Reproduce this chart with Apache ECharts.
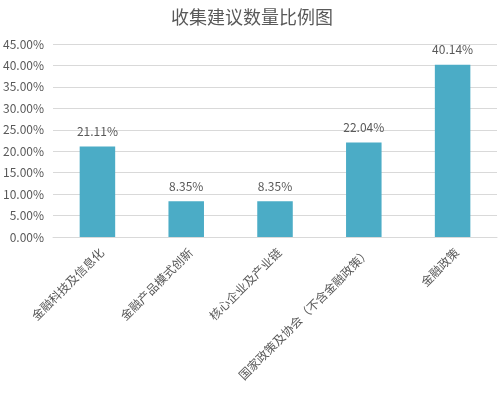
<!DOCTYPE html>
<html><head><meta charset="utf-8">
<script src="https://cdn.jsdelivr.net/npm/echarts@6/dist/echarts.min.js"></script>
<style>html,body{margin:0;padding:0;background:#fff}#c{width:504px;height:398px}</style>
</head><body><div id="c"></div>
<script>
const categories = ['金融科技及信息化','金融产品模式创新','核心企业及产业链','国家政策及协会（不含金融政策）','金融政策'];
const values = [21.11, 8.35, 8.35, 22.04, 40.14];
const yTicks = {min: 0, max: 45, interval: 5};
const font = '"Noto Sans CJK SC", "Noto Sans", sans-serif';
const chart = echarts.init(document.getElementById('c'));
chart.setOption({
  animation: false,
  textStyle: {fontFamily: font},
  title: {text: '收集建议数量比例图', left: 'center', top: 3,
    textStyle: {fontSize: 18, fontWeight: 'normal', color: '#595959', fontFamily: font}},
  grid: {left: 53, right: 7, top: 44, bottom: 161, containLabel: false},
  xAxis: {type: 'category', data: categories,
    axisLine: {lineStyle: {color: '#d9d9d9'}}, axisTick: {show: false},
    axisLabel: {rotate: 45, interval: 0, color: '#595959', fontSize: 12, margin: 9, fontFamily: font,
      verticalAlign: 'top'}},
  yAxis: {type: 'value', min: yTicks.min, max: yTicks.max, interval: yTicks.interval,
    axisLine: {show: false}, axisTick: {show: false},
    splitLine: {lineStyle: {color: '#d9d9d9'}},
    axisLabel: {color: '#595959', fontSize: 12, margin: 9, fontFamily: font,
      formatter: v => v.toFixed(2) + '%'}},
  series: [{type: 'bar', data: values, barWidth: '40%',
    itemStyle: {color: '#4bacc6'},
    label: {show: true, position: 'top', distance: 9, color: '#595959', fontSize: 12, fontFamily: font,
      formatter: p => p.value.toFixed(2) + '%'}}]
});
</script></body></html>
